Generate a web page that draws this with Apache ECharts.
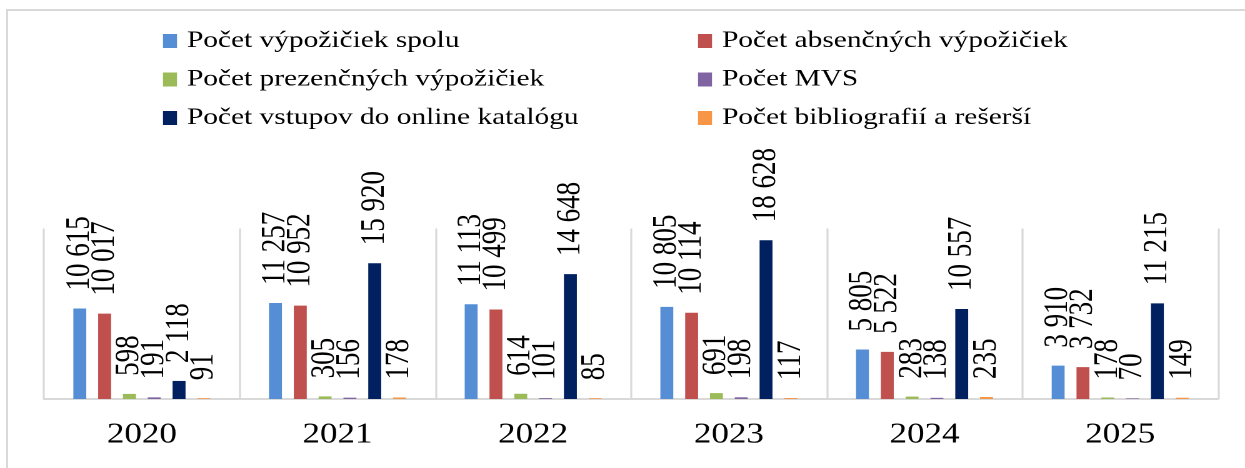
<!DOCTYPE html>
<html>
<head>
<meta charset="utf-8">
<script src="https://cdn.jsdelivr.net/npm/echarts@6/dist/echarts.min.js"></script>
<style>
  html, body { margin: 0; padding: 0; background: #fff; overflow: hidden; width: 1245px; height: 468px; }
  #frame { position: absolute; left: 6px; top: 9px; width: 1300px; height: 520px; border: 2px solid #d9d9d9; box-sizing: border-box; }
  #c { position: absolute; left: 0; top: 0; width: 996px; height: 468px; transform: scaleX(1.25); transform-origin: 0 0; }
</style>
</head>
<body>
<div id="frame"></div>
<div id="c"></div>
<script>
// ---- data ----
const categories = ['2020', '2021', '2022', '2023', '2024', '2025'];
const seriesNames = [
  'Počet výpožičiek spolu',
  'Počet absenčných výpožičiek',
  'Počet prezenčných výpožičiek',
  'Počet MVS',
  'Počet vstupov do online katalógu',
  'Počet bibliografií a rešerší'
];
const vypozickySpolu = [10615, 11257, 11113, 10805, 5805, 3910];
const absencneVypozicky = [10017, 10952, 10499, 10114, 5522, 3732];
const prezencneVypozicky = [598, 305, 614, 691, 283, 178];
const mvs = [191, 156, 101, 198, 138, 70];
const vstupyKatalog = [2118, 15920, 14648, 18628, 10557, 11215];
const bibliografie = [91, 178, 85, 117, 235, 149];

const seriesValues = [vypozickySpolu, absencneVypozicky, prezencneVypozicky, mvs, vstupyKatalog, bibliografie];

// ---- style ----
const colors = ['#558ED5', '#C0504D', '#9BBB59', '#8064A2', '#002060', '#F79646'];
const FONT = "'Times New Roman', 'Liberation Serif', serif";

function fmt(v) {
  return String(v).replace(/\B(?=(\d{3})+(?!\d))/g, ' ');
}

const chart = echarts.init(document.getElementById('c'), null, { renderer: 'canvas', devicePixelRatio: 2 });

const legendCommon = {
  orient: 'vertical',
  top: 29,
  padding: 0,
  icon: 'rect',
  itemWidth: 11.2,
  itemHeight: 14,
  itemGap: 14.5,
  selectedMode: false,
  textStyle: { fontFamily: FONT, fontSize: 23.5, color: '#000', lineHeight: 22, padding: [0, 0, 0, 3] }
};

const option = {
  animation: false,
  color: colors,
  legend: [
    Object.assign({}, legendCommon, { left: 130.4, data: [seriesNames[0], seriesNames[2], seriesNames[4]] }),
    Object.assign({}, legendCommon, { left: 558.4, data: [seriesNames[1], seriesNames[3], seriesNames[5]] })
  ],
  grid: { left: 35.2, right: 21.6, top: 228.5, bottom: 69, containLabel: false },
  xAxis: {
    type: 'category',
    data: categories,
    axisLine: { show: true, lineStyle: { color: '#d9d9d9', width: 2 } },
    axisTick: { show: false },
    splitLine: { show: true, lineStyle: { color: '#d9d9d9', width: 1.6 } },
    axisLabel: { fontFamily: FONT, fontSize: 28, color: '#000', margin: 22, lineHeight: 28 }
  },
  yAxis: {
    type: 'value',
    min: 0,
    max: 20000,
    show: false,
    splitLine: { show: false }
  },
  series: seriesNames.map((name, i) => ({
    name: name,
    type: 'bar',
    data: seriesValues[i],
    barGap: '92%',
    barCategoryGap: '30%',
    itemStyle: { color: colors[i] },
    label: {
      show: true,
      position: 'top',
      rotate: 90,
      align: 'left',
      verticalAlign: 'middle',
      distance: 18,
      fontFamily: FONT,
      fontSize: 27,
      color: '#000',
      formatter: (p) => fmt(p.value)
    }
  }))
};

chart.setOption(option);
</script>
</body>
</html>
